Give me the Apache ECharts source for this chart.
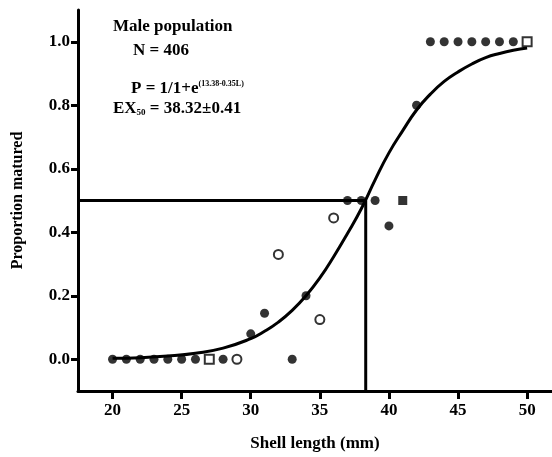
<!DOCTYPE html>
<html>
<head>
<meta charset="utf-8">
<script src="https://cdn.jsdelivr.net/npm/echarts@6/dist/echarts.min.js"></script>
<style>
  html, body { margin: 0; padding: 0; background: #fff; }
  #chart { width: 552px; height: 457px; }
</style>
</head>
<body>
<div id="chart"></div>
<script>
// observed proportions by shell length (mm)
const shellLength = [20, 21, 22, 23, 24, 25, 26, 27, 28, 29, 30, 31, 32, 33, 34, 35, 36, 37, 38, 39, 40, 41, 42, 43, 44, 45, 46, 47, 48, 49, 50];
const proportion  = [0, 0, 0, 0, 0, 0, 0, 0, 0, 0, 0.08, 0.145, 0.33, 0, 0.2, 0.125, 0.445, 0.5, 0.5, 0.5, 0.42, 0.5, 0.8, 1, 1, 1, 1, 1, 1, 1, 1];
// f = filled circle, o = open circle, q = open square, s = filled square
const markerKind  = ['f', 'f', 'f', 'f', 'f', 'f', 'f', 'q', 'f', 'o', 'f', 'f', 'o', 'f', 'f', 'o', 'o', 'f', 'f', 'f', 'f', 's', 'f', 'f', 'f', 'f', 'f', 'f', 'f', 'f', 'q'];

// fitted curve
const curveX = [20, 22, 24, 26, 28, 30, 31, 32, 33, 34, 35, 36, 37, 38, 39, 40, 41, 42, 43, 44, 45, 46, 47, 48, 49, 50];
const curveY = [0.003, 0.005, 0.01, 0.019, 0.035, 0.065, 0.088, 0.117, 0.154, 0.2, 0.256, 0.323, 0.396, 0.474, 0.565, 0.65, 0.72, 0.785, 0.835, 0.875, 0.905, 0.93, 0.95, 0.963, 0.973, 0.98];

const L50 = 38.32;
const P50 = 0.5;

const xTicks = [20, 25, 30, 35, 40, 45, 50];
const yTicks = [0, 0.2, 0.4, 0.6, 0.8, 1.0];
const xMin = 17.5, xMax = 51.8;
const yMin = -0.1, yMax = 1.1;

const font = 'Liberation Serif';
const chart = echarts.init(document.getElementById('chart'));

const points = shellLength.map((x, i) => {
  const k = markerKind[i];
  const open = k === 'o' || k === 'q';
  return {
    value: [x, proportion[i]],
    symbol: (k === 'q' || k === 's') ? 'rect' : 'circle',
    itemStyle: {
      color: open ? '#fff' : '#000',
      borderColor: '#000',
      borderWidth: open ? 2 : 0
    }
  };
});

const option = {
  animation: false,
  backgroundColor: '#fff',
  grid: { left: 78, right: 0, top: 10, bottom: 64 },
  xAxis: {
    type: 'value',
    min: xMin,
    max: xMax,
    name: 'Shell length (mm)',
    nameLocation: 'middle',
    nameGap: 44,
    nameTextStyle: { fontFamily: font, fontWeight: 'bold', fontSize: 17, color: '#000' },
    axisLine: { onZero: false, lineStyle: { color: '#000', width: 3 } },
    axisTick: { customValues: xTicks, length: 8, lineStyle: { color: '#000', width: 3 } },
    axisLabel: { customValues: xTicks, margin: 11, fontFamily: font, fontWeight: 'bold', fontSize: 17, color: '#000' },
    splitLine: { show: false }
  },
  yAxis: {
    type: 'value',
    min: yMin,
    max: yMax,
    name: 'Proportion matured',
    nameLocation: 'middle',
    nameRotate: 90,
    nameGap: 52,
    nameTextStyle: { fontFamily: font, fontWeight: 'bold', fontSize: 16, color: '#000' },
    axisLine: { onZero: false, lineStyle: { color: '#000', width: 3 } },
    axisTick: { customValues: yTicks, length: 7, lineStyle: { color: '#000', width: 3 } },
    axisLabel: {
      customValues: yTicks, margin: 8,
      fontFamily: font, fontWeight: 'bold', fontSize: 17, color: '#000',
      formatter: v => v.toFixed(1)
    },
    splitLine: { show: false }
  },
  series: [
    {
      type: 'line',
      data: [[xMin, P50], [L50, P50], [L50, yMin]],
      symbol: 'none',
      lineStyle: { color: '#000', width: 3 },
      z: 1
    },
    {
      type: 'line',
      data: curveX.map((x, i) => [x, curveY[i]]),
      smooth: true,
      symbol: 'none',
      lineStyle: { color: '#000', width: 3 },
      z: 2
    },
    {
      type: 'scatter',
      data: points,
      symbolSize: 9,
      z: 3
    }
  ],
  graphic: [
    {
      type: 'text', left: 113, top: 18,
      style: { text: 'Male population', fontFamily: font, fontWeight: 'bold', fontSize: 17, fill: '#000' }
    },
    {
      type: 'text', left: 133, top: 42,
      style: { text: 'N = 406', fontFamily: font, fontWeight: 'bold', fontSize: 17, fill: '#000' }
    },
    {
      type: 'text', left: 131, top: 80,
      style: {
        text: '{m|P = 1/1+e}{s|(13.38-0.35L)}',
        fontFamily: font, fontWeight: 'bold', fill: '#000',
        rich: {
          m: { fontFamily: font, fontWeight: 'bold', fontSize: 17 },
          s: { fontFamily: font, fontWeight: 'bold', fontSize: 8, verticalAlign: 'top', padding: [0, 0, 10, 0] }
        }
      }
    },
    {
      type: 'text', left: 113, top: 100,
      style: {
        text: '{m|EX}{b|50}{m| = 38.32±0.41}',
        fontFamily: font, fontWeight: 'bold', fill: '#000',
        rich: {
          m: { fontFamily: font, fontWeight: 'bold', fontSize: 17 },
          b: { fontFamily: font, fontWeight: 'bold', fontSize: 9, padding: [8, 0, 0, 0] }
        }
      }
    }
  ]
};

chart.setOption(option);
</script>
</body>
</html>
